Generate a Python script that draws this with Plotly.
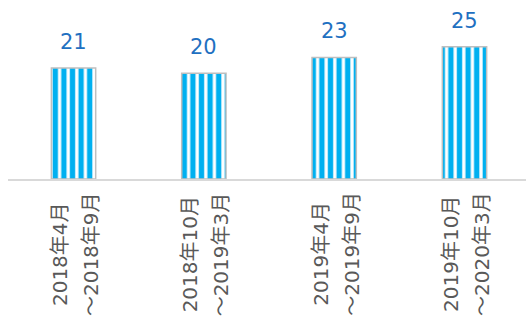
import plotly.graph_objects as go

categories = ["2018年4月～2018年9月", "2018年10月～2019年3月",
              "2019年4月～2019年9月", "2019年10月～2020年3月"]
label_line1 = ["2018年4月", "2018年10月", "2019年4月", "2019年10月"]
label_line2 = ["～2018年9月", "～2019年3月", "～2019年9月", "～2020年3月"]
values = [21, 20, 23, 25]

FONT = "DejaVu Sans, Noto Sans CJK JP"

fig = go.Figure()
fig.add_trace(go.Bar(
    x=categories, y=values, width=0.34,
    marker=dict(color="white",
                line=dict(color="#bfbfbf", width=1.5),
                pattern=dict(shape="|", fgcolor="#00b0f0", bgcolor="white",
                             size=8.6, solidity=0.62, fillmode="replace")),
    hoverinfo="skip",
))
for c, v in zip(categories, values):
    fig.add_annotation(x=c, y=v, text=str(v), showarrow=False, yshift=26,
                       font=dict(size=21, color="#1f70c1", family=FONT))
for c, l1, l2 in zip(categories, label_line1, label_line2):
    for txt, dx in ((l1, -13.5), (l2, 17.5)):
        fig.add_annotation(x=c, xref="x", y=0, yref="paper", text=txt,
                           textangle=-90, showarrow=False,
                           xanchor="center", yanchor="middle",
                           xshift=dx, yshift=-75,
                           font=dict(size=20, color="#595959", family=FONT))

fig.update_layout(
    width=526, height=316,
    margin=dict(l=8, r=0, t=4, b=137),
    paper_bgcolor="white", plot_bgcolor="white",
    showlegend=False,
    font=dict(family=FONT, color="#595959"),
)
fig.update_xaxes(showline=True, linecolor="#d9d9d9", linewidth=1.5,
                 showticklabels=False, ticks="", showgrid=False,
                 automargin=False, range=[-0.503, 3.472])
fig.update_yaxes(visible=False, range=[0, 33.1], automargin=False)
fig.write_html("out.html", config={"displayModeBar": False},
               post_script="document.body.style.margin='0';")
